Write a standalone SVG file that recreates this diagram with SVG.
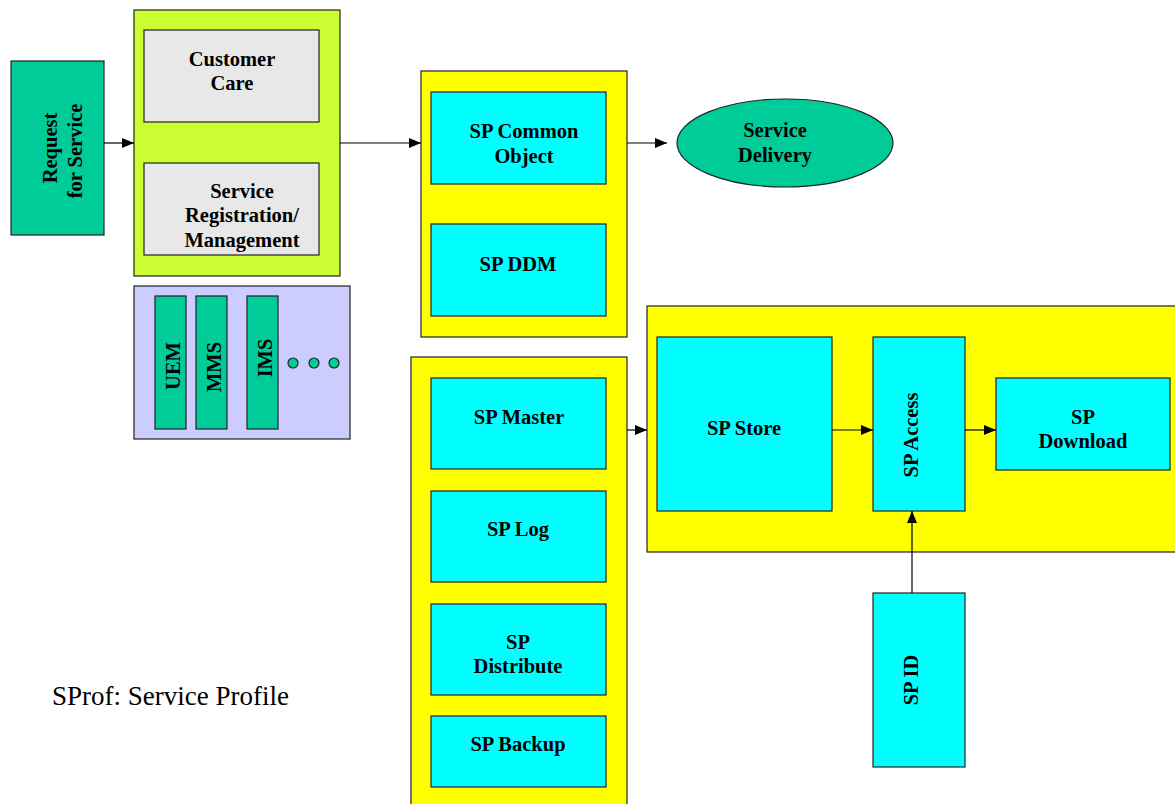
<svg xmlns="http://www.w3.org/2000/svg" width="1175" height="804" viewBox="0 0 1175 804">
<style>
rect,ellipse,circle{stroke:#222;stroke-width:1.2}
.teal{fill:#00CC99}.lime{fill:#CCFF33}.gray{fill:#E8E8E8}.lav{fill:#CCCCFF}.yel{fill:#FFFF00}.cy{fill:#00FFFF}
text{font-family:"Liberation Serif","Times New Roman",serif;font-weight:bold;font-size:20.5px;fill:#000;text-anchor:middle}
.plain{font-weight:normal;font-size:27px;text-anchor:start}
.conn line{stroke:#000;stroke-width:1.2;marker-end:url(#ah)}
</style>
<defs>
<marker id="ah" markerWidth="12" markerHeight="10" refX="12" refY="5" orient="auto" markerUnits="userSpaceOnUse">
<path d="M0,0 L12,5 L0,10 Z" fill="#000"/>
</marker>
</defs>
<rect width="1175" height="804" style="fill:#fff;stroke:none"/>

<g id="request">
<rect class="teal" x="11" y="61" width="93" height="174"/>
<text transform="translate(57,148) rotate(-90)">Request</text>
<text transform="translate(82,151) rotate(-90)">for Service</text>
</g>

<g id="cc-group">
<rect class="lime" x="134" y="10" width="206" height="266"/>
</g>
<g id="customer-care">
<rect class="gray" x="144" y="30" width="175" height="92"/>
<text x="232" y="66">Customer</text>
<text x="232" y="90">Care</text>
</g>
<g id="service-registration">
<rect class="gray" x="144" y="163" width="175" height="92"/>
<text x="242" y="198">Service</text>
<text x="242" y="222">Registration/</text>
<text x="242" y="247">Management</text>
</g>

<g id="channels">
<rect class="lav" x="134" y="286" width="216" height="153"/>
</g>
<g id="uem">
<rect class="teal" x="155" y="296" width="31" height="133"/>
<text transform="translate(180,366) rotate(-90)">UEM</text>
</g>
<g id="mms">
<rect class="teal" x="196" y="296" width="31" height="133"/>
<text transform="translate(221,367) rotate(-90)">MMS</text>
</g>
<g id="ims">
<rect class="teal" x="247" y="296" width="31" height="133"/>
<text transform="translate(272,358) rotate(-90)">IMS</text>
</g>
<g id="dots">
<circle class="teal" cx="293" cy="363" r="5"/>
<circle class="teal" cx="314" cy="363" r="5"/>
<circle class="teal" cx="334" cy="363" r="5"/>
</g>

<g id="common-group">
<rect class="yel" x="421" y="71" width="206" height="266"/>
</g>
<g id="sp-common-object">
<rect class="cy" x="431" y="92" width="175" height="92"/>
<text x="524" y="138">SP Common</text>
<text x="524" y="163">Object</text>
</g>
<g id="sp-ddm">
<rect class="cy" x="431" y="224" width="175" height="92"/>
<text x="518" y="271">SP DDM</text>
</g>

<g id="service-delivery">
<ellipse cx="785" cy="143" rx="108" ry="44" class="teal"/>
<text x="775" y="137">Service</text>
<text x="775" y="162">Delivery</text>
</g>

<g id="master-group">
<rect class="yel" x="411" y="357" width="216" height="460"/>
</g>
<g id="sp-master">
<rect class="cy" x="431" y="378" width="175" height="91"/>
<text x="519" y="424">SP Master</text>
</g>
<g id="sp-log">
<rect class="cy" x="431" y="491" width="175" height="91"/>
<text x="518" y="536">SP Log</text>
</g>
<g id="sp-distribute">
<rect class="cy" x="431" y="604" width="175" height="91"/>
<text x="518" y="649">SP</text>
<text x="518" y="673">Distribute</text>
</g>
<g id="sp-backup">
<rect class="cy" x="431" y="716" width="175" height="71"/>
<text x="518" y="751">SP Backup</text>
</g>

<g id="store-group">
<rect class="yel" x="647" y="306" width="540" height="246"/>
</g>
<g id="sp-store">
<rect class="cy" x="657" y="337" width="175" height="174"/>
<text x="744" y="435">SP Store</text>
</g>
<g id="sp-access">
<rect class="cy" x="873" y="337" width="92" height="174"/>
<text transform="translate(918,435) rotate(-90)">SP Access</text>
</g>
<g id="sp-download">
<rect class="cy" x="996" y="378" width="174" height="92"/>
<text x="1083" y="424">SP</text>
<text x="1083" y="448">Download</text>
</g>
<g id="sp-id">
<rect class="cy" x="873" y="593" width="92" height="174"/>
<text transform="translate(918,680) rotate(-90)">SP ID</text>
</g>

<g id="note">
<text class="plain" x="52" y="705">SProf: Service Profile</text>
</g>

<g class="conn" id="connectors">
<line x1="104" y1="143" x2="134" y2="143"/>
<line x1="340" y1="143" x2="421" y2="143"/>
<line x1="627" y1="143" x2="667" y2="143"/>
<line x1="627" y1="430" x2="647" y2="430"/>
<line x1="832" y1="430" x2="873" y2="430"/>
<line x1="965" y1="430" x2="996" y2="430"/>
<line x1="912" y1="593" x2="912" y2="511"/>
</g>
</svg>
